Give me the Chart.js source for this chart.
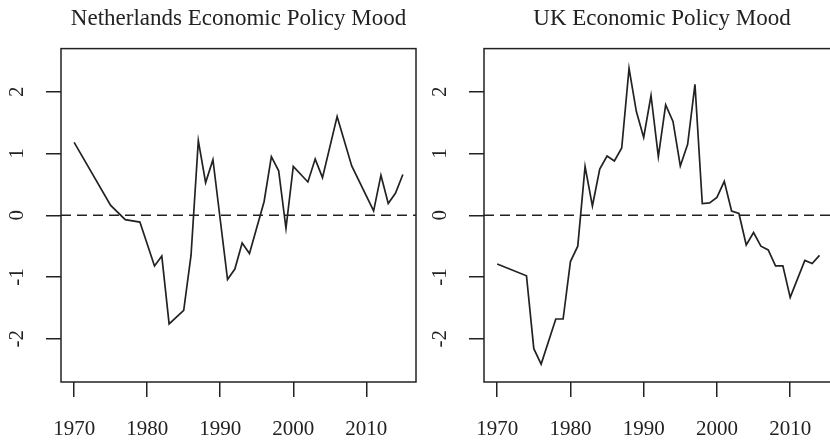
<!DOCTYPE html>
<html>
<head>
<meta charset="utf-8">
<script src="https://cdn.jsdelivr.net/npm/chart.js@4"></script>
<style>
html, body { margin: 0; padding: 0; background: #fff; overflow: hidden; width: 830px; height: 443px; }
canvas { position: absolute; top: 0; }
#nl { left: 0; }
#uk { left: 422px; }
</style>
</head>
<body>
<canvas id="nl" width="450" height="443"></canvas>
<canvas id="uk" width="450" height="443"></canvas>
<script>
// values
const nlYears = [1970, 1975, 1977, 1979, 1981, 1982, 1983, 1985, 1986, 1987, 1988, 1989, 1991, 1992, 1993, 1994,
  1996, 1997, 1998, 1999, 2000, 2002, 2003, 2004, 2006, 2008, 2011, 2012, 2013, 2014, 2015];
const nlMood = [1.18, 0.16, -0.07, -0.11, -0.82, -0.66, -1.76, -1.54, -0.65, 1.21, 0.53, 0.90, -1.04, -0.87, -0.45, -0.62,
  0.22, 0.95, 0.72, -0.21, 0.79, 0.54, 0.91, 0.61, 1.60, 0.80, 0.07, 0.65, 0.19, 0.36, 0.66];

const ukYears = [1970, 1974, 1975, 1976, 1978, 1979, 1980, 1981, 1982, 1983, 1984, 1985, 1986, 1987, 1988, 1989,
  1990, 1991, 1992, 1993, 1994, 1995, 1996, 1997, 1998, 1999, 2000, 2001, 2002, 2003, 2004, 2005, 2006, 2007,
  2008, 2009, 2010, 2012, 2013, 2014];
const ukMood = [-0.79, -0.98, -2.16, -2.41, -1.68, -1.68, -0.75, -0.50, 0.79, 0.15, 0.75, 0.96, 0.88, 1.09, 2.38, 1.68,
  1.26, 1.94, 0.95, 1.79, 1.52, 0.80, 1.15, 2.12, 0.19, 0.20, 0.29, 0.55, 0.07, 0.03, -0.48, -0.28, -0.50, -0.56,
  -0.82, -0.82, -1.33, -0.73, -0.78, -0.65];

const xTicks = [1970, 1980, 1990, 2000, 2010];
const yTicks = [-2, -1, 0, 1, 2];
const refLine = 0;

const ink = '#222';
const serif = 'Liberation Serif';

// box round the plot and dashed line at zero
const framePlugin = {
  id: 'frame',
  beforeDatasetsDraw(chart) {
    const { ctx, chartArea: a } = chart;
    const y = chart.scales.y.getPixelForValue(refLine);
    ctx.save();
    ctx.strokeStyle = ink;
    ctx.lineWidth = 1.5;
    ctx.setLineDash([10, 6]);
    ctx.beginPath();
    ctx.moveTo(a.left, y);
    ctx.lineTo(a.right, y);
    ctx.stroke();
    ctx.restore();
  },
  afterDraw(chart) {
    const { ctx, chartArea: a } = chart;
    ctx.save();
    ctx.strokeStyle = ink;
    ctx.lineWidth = 1.5;
    ctx.strokeRect(a.left, a.top, a.right - a.left, a.bottom - a.top);
    ctx.restore();
  }
};

function makeChart(id, title, years, mood, yWidth, padRight) {
  return new Chart(document.getElementById(id), {
    type: 'line',
    data: {
      datasets: [{
        data: years.map((yr, i) => ({ x: yr, y: mood[i] })),
        borderColor: ink,
        borderWidth: 1.7,
        pointRadius: 0,
        tension: 0,
        fill: false
      }]
    },
    options: {
      responsive: false,
      animation: false,
      layout: { padding: { left: 0, right: padRight, top: 0, bottom: 0 } },
      plugins: {
        legend: { display: false },
        tooltip: { enabled: false },
        title: {
          display: true,
          text: title,
          fullSize: false,
          color: ink,
          font: { family: serif, size: 23, weight: 'normal' },
          padding: { top: 5, bottom: 16 }
        }
      },
      scales: {
        x: {
          type: 'linear',
          min: 1968.2,
          max: 2016.8,
          afterBuildTicks: s => { s.ticks = xTicks.map(v => ({ value: v })); },
          afterFit: s => { s.height = 61; },
          border: { display: false },
          grid: { drawOnChartArea: false, drawTicks: true, tickLength: 15, color: ink, lineWidth: 1.5 },
          ticks: {
            color: ink,
            font: { family: serif, size: 21 },
            padding: 20,
            maxRotation: 0,
            autoSkip: false,
            callback: v => String(v)
          }
        },
        y: {
          min: -2.7,
          max: 2.7,
          afterBuildTicks: s => { s.ticks = yTicks.map(v => ({ value: v })); },
          afterFit: s => { s.width = yWidth; },
          border: { display: false },
          grid: { drawOnChartArea: false, drawTicks: true, tickLength: 15, color: ink, lineWidth: 1.5 },
          ticks: {
            color: ink,
            font: { family: serif, size: 21 },
            minRotation: 90,
            maxRotation: 90,
            crossAlign: 'center',
            padding: 20,
            autoSkip: false,
            callback: v => String(v)
          }
        }
      }
    },
    plugins: [framePlugin]
  });
}

makeChart('nl', 'Netherlands Economic Policy Mood', nlYears, nlMood, 61, 34);
makeChart('uk', 'UK Economic Policy Mood', ukYears, ukMood, 62, 32);
</script>
</body>
</html>
